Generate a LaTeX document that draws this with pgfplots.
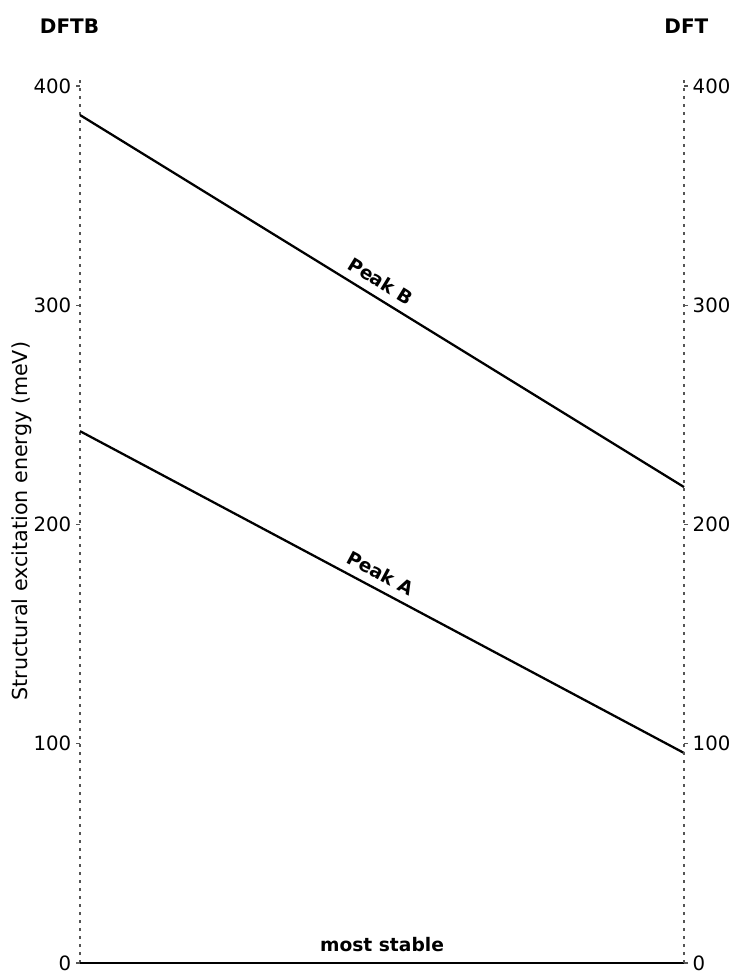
\documentclass[border=0pt]{standalone}
\usepackage{pgfplots}
\pgfplotsset{compat=1.18}
\usepackage{fontspec}
\setmainfont{DejaVu Sans}
\definecolor{axgray}{HTML}{555555}
\pgfplotsset{base/.style={
  scale only axis, width=453pt, height=665.25pt,
  xmin=0, xmax=1, ymin=0, ymax=404.6,
  axis x line=none,
  ytick={0,100,200,300,400},
  tick align=outside, major tick length=3pt,
  tick style={axgray, line width=0.9pt},
  axis line style={-, axgray, line width=1.3pt, dash pattern=on 2.4pt off 3.6pt},
  ticklabel style={font=\fontsize{14.8}{17}\selectfont},
  /pgf/number format/assume math mode=true,
  clip=false,
  at={(60pt,6pt)}, anchor=south west
}}
\begin{document}
\begin{tikzpicture}
\useasboundingbox (0,0) rectangle (549pt,728.25pt);
\begin{axis}[base, axis y line*=left,
  ylabel={Structural excitation energy (meV)},
  every axis y label/.style={at={(rel axis cs:0,0.498)}, anchor=center, rotate=90, yshift=43.5pt, font=\fontsize{15.5}{18}\selectfont}]
\addplot[black, line width=1.7pt] coordinates {(0,386.8) (1,217.1)};
\addplot[black, line width=1.7pt] coordinates {(0,242.6) (1,95.8)};
\addplot[black, line width=1.7pt] coordinates {(0,0) (1,0)};
\node[rotate=-31.6, font=\bfseries\fontsize{14}{16}\selectfont] at (axis cs:0.498,311.1) {Peak B};
\node[rotate=-28.05, font=\bfseries\fontsize{14}{16}\selectfont] at (axis cs:0.498,177.9) {Peak A};
\node[font=\bfseries\fontsize{14}{16}\selectfont] at (axis cs:0.5,8.6) {most stable};
\node[font=\bfseries\fontsize{15}{18}\selectfont] at (axis cs:-0.0174,427.4) {DFTB};
\node[font=\bfseries\fontsize{15}{18}\selectfont] at (axis cs:1.004,427.4) {DFT};
\end{axis}
\begin{axis}[base, axis y line*=right]
\end{axis}
\end{tikzpicture}
\end{document}
